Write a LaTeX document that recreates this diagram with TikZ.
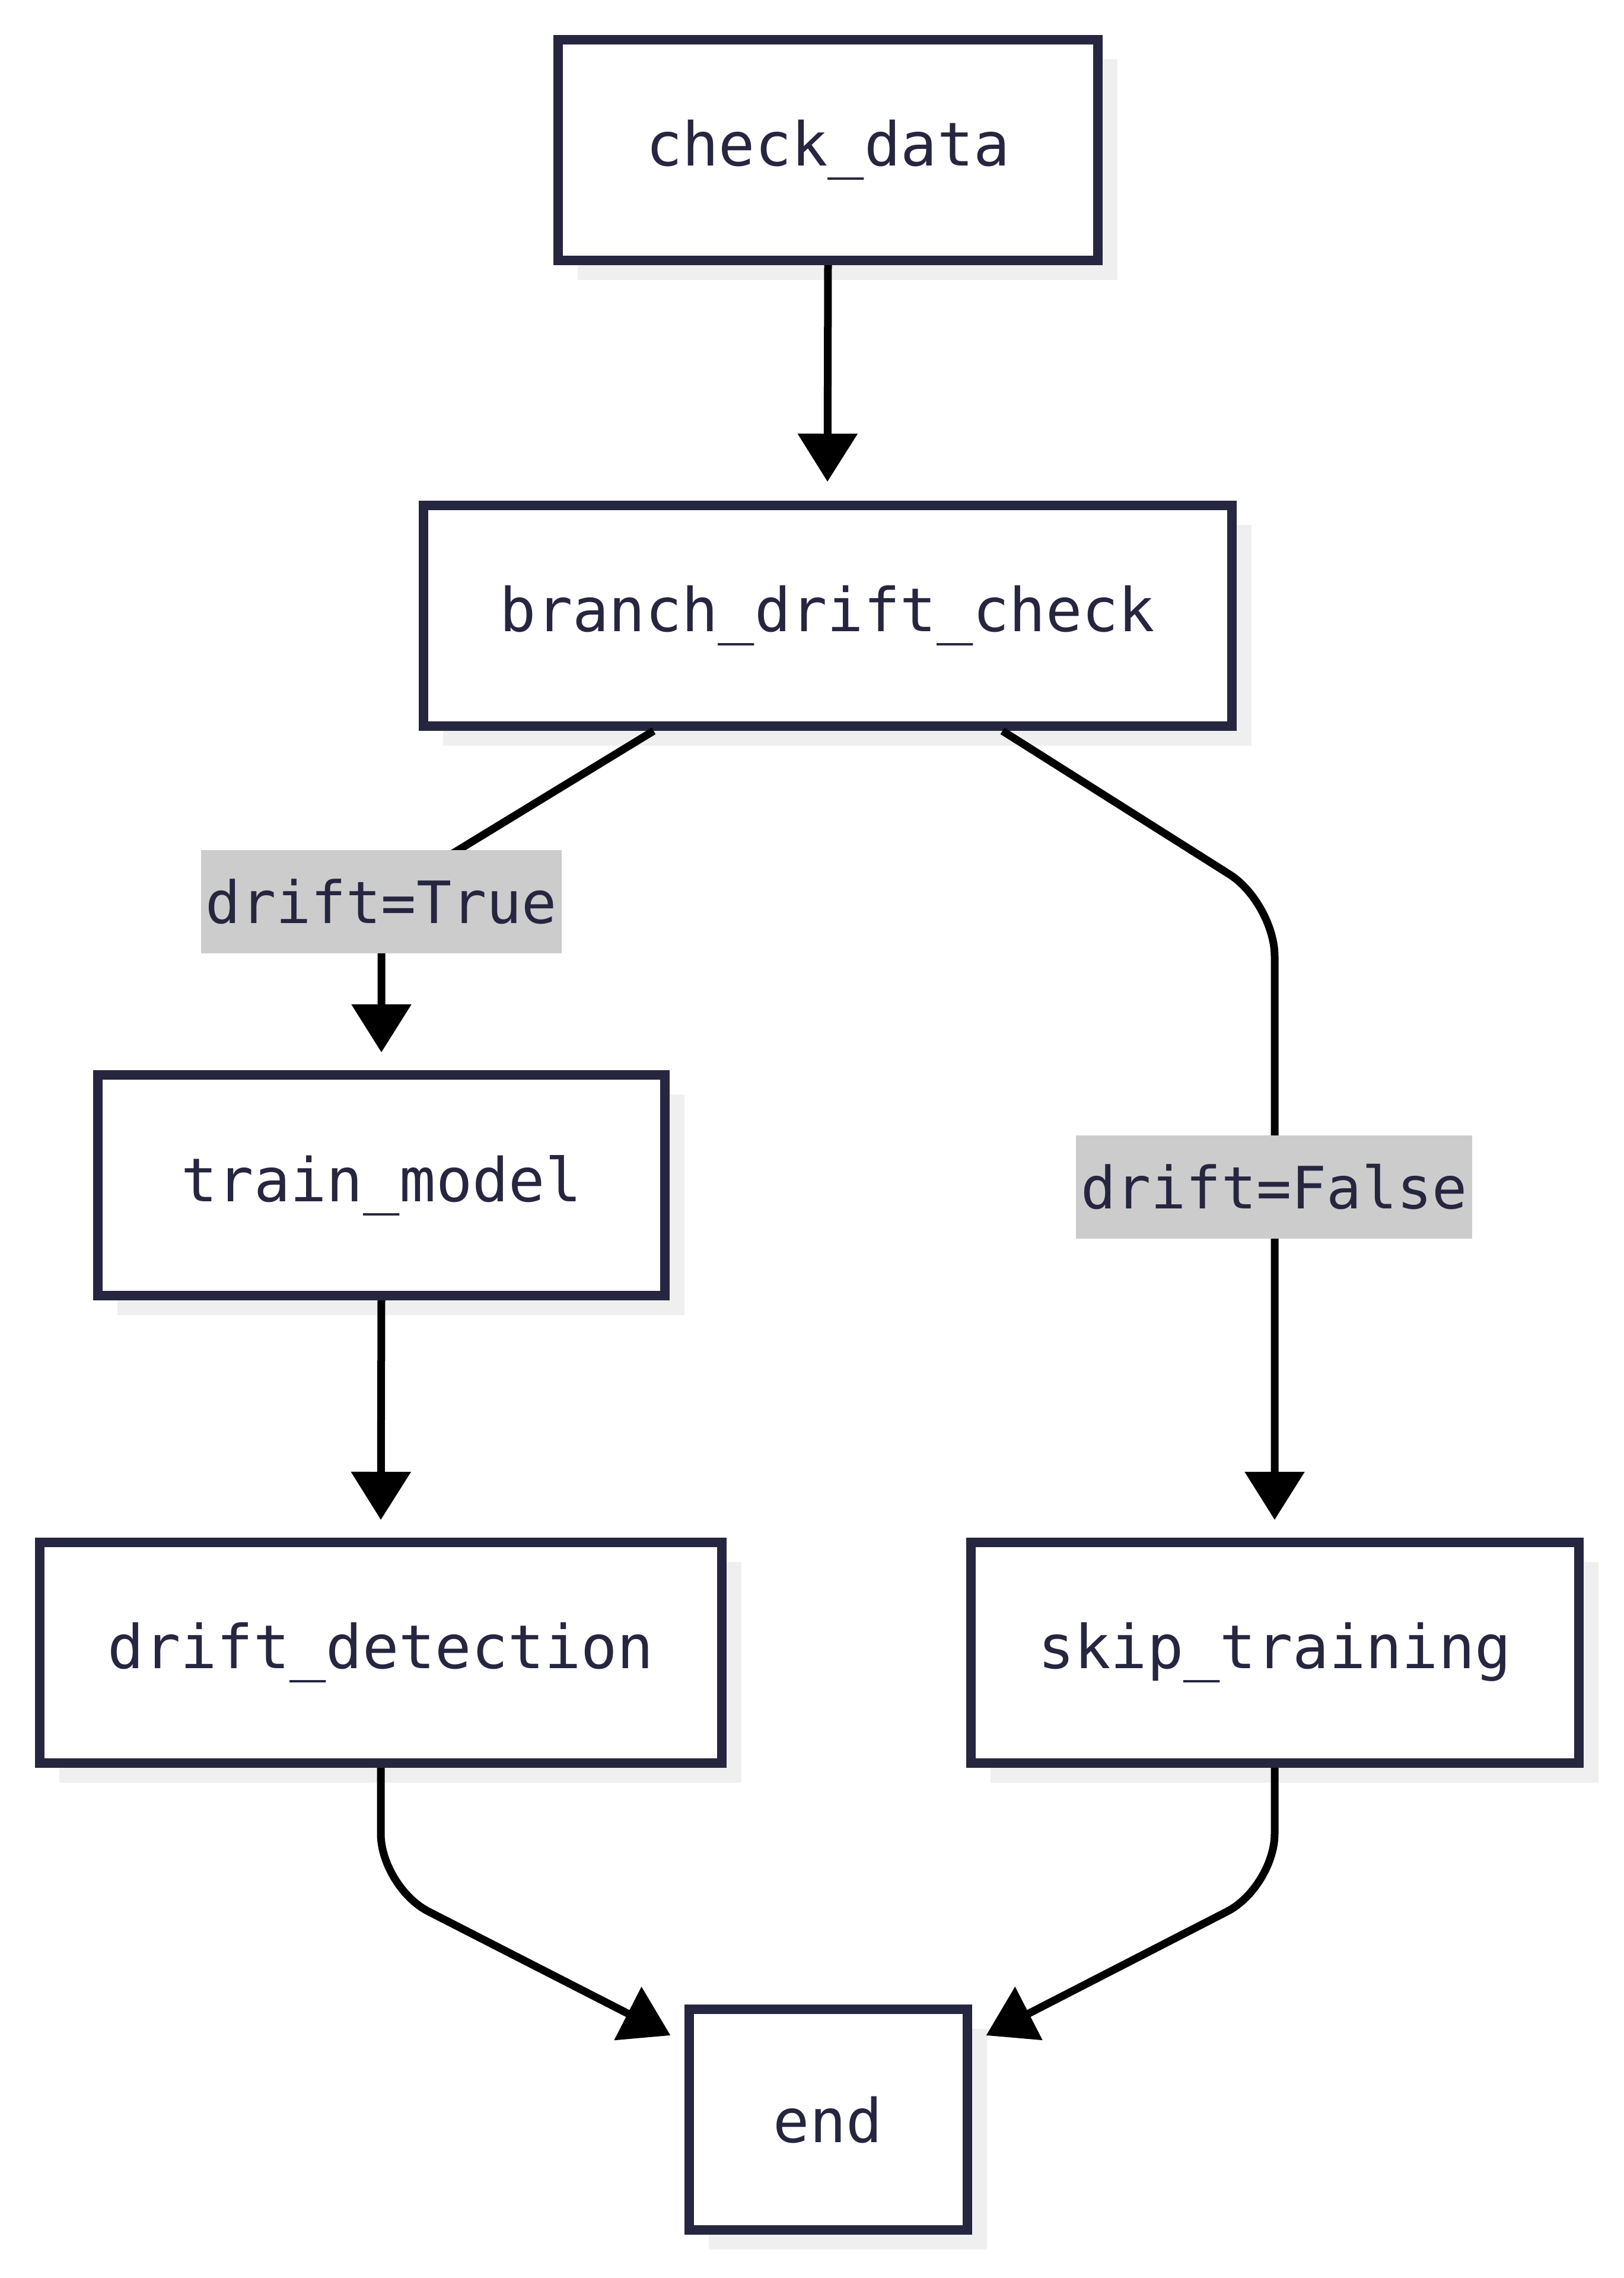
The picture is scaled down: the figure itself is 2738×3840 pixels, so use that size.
\documentclass[tikz,border=0pt]{standalone}
\usepackage{fontspec}
\setmonofont{DejaVu Sans Mono}
\usepackage{tikz}
\usetikzlibrary{calc,arrows.meta,shadows}
\definecolor{navyx}{HTML}{272640}
\definecolor{shadowx}{HTML}{EFEFEF}
\definecolor{greyx}{HTML}{CCCCCC}
\tikzset{
  ar/.style={-{Triangle[length=8.1mm,width=9.8mm]},line width=1.3mm,black,rounded corners=9mm},
  box/.style={draw=navyx,line width=1.6mm,fill=white,minimum height=37.2mm,text=navyx,
    font=\ttfamily\fontsize{29}{35}\selectfont,
    drop shadow={shadow xshift=3.3mm,shadow yshift=-3.3mm,fill=shadowx,opacity=1}},
  lbl/.style={fill=greyx,text=navyx,inner xsep=0.8mm,minimum height=17.4mm,
    font=\ttfamily\fontsize{28}{34}\selectfont}
}
\begin{document}
\begin{tikzpicture}[x=0.1mm,y=-0.1mm]
\useasboundingbox (0,0) rectangle (2738,3840);
% nodes
\node[box,minimum width=91mm] (check) at (1396,253) {check\_data};
\node[box,minimum width=136.3mm] (branch) at (1395,1038) {branch\_drift\_check};
\node[box,minimum width=95.6mm] (train) at (643,1998) {train\_model};
\node[box,minimum width=115mm] (detect) at (642,2786) {drift\_detection};
\node[box,minimum width=102.5mm] (skip) at (2149,2786) {skip\_training};
\node[box,minimum width=46.9mm] (stop) at (1396,3573) {end};
% edges
\draw[ar,shorten >=3.2mm] (check.south) -- (branch.north);
\draw[ar,shorten >=3mm] ($(branch.south)+(-293,0)$) -- (train.north |- 0,1512) -- (train.north);
\draw[ar,shorten >=3mm] ($(branch.south)+(295,0)$) -- (skip.north |- 0,1522) -- (skip.north);
\draw[ar,shorten >=3mm] (train.south) -- (detect.north);
\draw[ar] (detect.south) -- (detect.south |- 0,3181) -- ($(stop.north west)+(-23,52)$);
\draw[ar] (skip.south) -- (skip.south |- 0,3181) -- ($(stop.north east)+(24,52)$);
% edge labels
\node[lbl] (yes) at (643,1520) {drift=True};
\node[lbl] (no) at (2148,2001) {drift=False};
\end{tikzpicture}
\end{document}
